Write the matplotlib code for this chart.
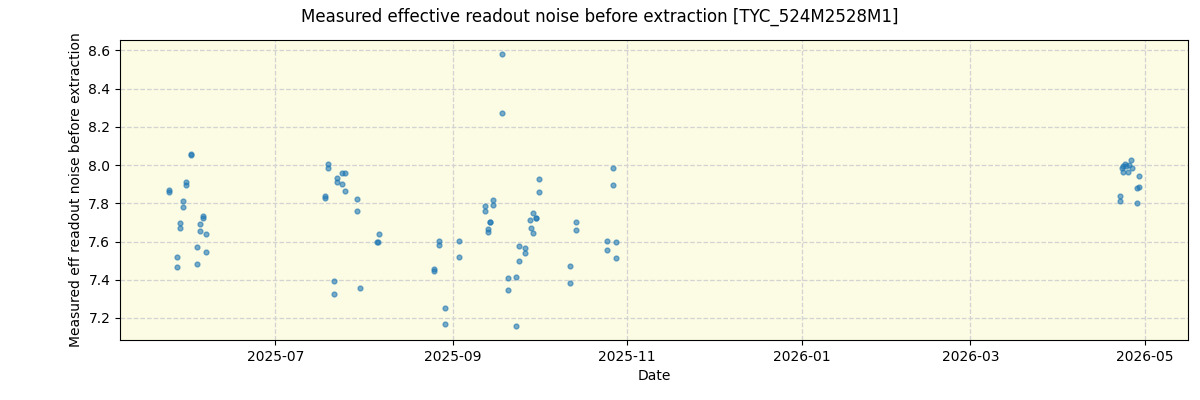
import pandas as pd
import matplotlib
matplotlib.use("Agg")
import matplotlib.pyplot as plt
import matplotlib.dates as mdates

# observation dates (two readings for most nights)
dates = [
    "2025-05-24 16:00", "2025-05-24 16:00", "2025-05-27 12:00", "2025-05-27 12:00",
    "2025-05-28 13:00", "2025-05-28 13:00", "2025-05-29 14:00", "2025-05-29 14:00",
    "2025-05-30 15:00", "2025-05-30 15:00", "2025-06-01 09:00", "2025-06-01 09:00",
    "2025-06-03 11:00", "2025-06-03 11:00", "2025-06-04 12:00", "2025-06-04 12:00",
    "2025-06-05 14:00", "2025-06-05 14:00", "2025-06-06 15:00", "2025-06-06 15:00",
    "2025-07-18 06:00", "2025-07-18 06:00", "2025-07-19 07:00", "2025-07-19 07:00",
    "2025-07-21 09:00", "2025-07-21 09:00", "2025-07-22 11:00", "2025-07-22 11:00",
    "2025-07-24 05:00", "2025-07-24 05:00", "2025-07-25 07:00", "2025-07-25 07:00",
    "2025-07-29 11:00", "2025-07-29 11:00", "2025-07-30 12:00",
    "2025-08-05 10:00", "2025-08-05 22:00", "2025-08-06 03:00",
    "2025-08-25 09:00", "2025-08-25 09:00", "2025-08-27 03:00", "2025-08-27 03:00",
    "2025-08-29 05:00", "2025-08-29 05:00", "2025-09-03 03:00", "2025-09-03 03:00",
    "2025-09-12 05:00", "2025-09-12 05:00", "2025-09-13 06:00", "2025-09-13 06:00",
    "2025-09-13 23:00", "2025-09-13 23:00", "2025-09-15 00:00", "2025-09-15 00:00",
    "2025-09-18 04:00", "2025-09-18 04:00", "2025-09-20 06:00", "2025-09-20 06:00",
    "2025-09-23 01:00", "2025-09-23 01:00", "2025-09-24 02:00", "2025-09-24 02:00",
    "2025-09-26 05:00", "2025-09-26 05:00", "2025-09-27 23:00", "2025-09-28 07:00",
    "2025-09-29 00:00", "2025-09-29 00:00", "2025-09-30 01:00", "2025-09-30 01:00",
    "2025-10-01 02:00", "2025-10-01 02:00",
    "2025-10-11 22:00", "2025-10-11 22:00", "2025-10-14 01:00", "2025-10-14 01:00",
    "2025-10-24 21:00", "2025-10-24 21:00", "2025-10-26 23:00", "2025-10-26 23:00",
    "2025-10-28 01:00", "2025-10-28 01:00",
    "2026-04-22 07:00", "2026-04-22 07:00", "2026-04-22 22:00", "2026-04-23 04:00",
    "2026-04-23 04:00", "2026-04-24 01:00", "2026-04-24 13:00", "2026-04-25 06:00",
    "2026-04-25 11:00", "2026-04-26 04:00", "2026-04-26 10:00", "2026-04-28 06:00",
    "2026-04-28 06:00", "2026-04-29 02:00", "2026-04-29 02:00",
]

noise = [
    7.871, 7.859, 7.518, 7.466,
    7.696, 7.670, 7.812, 7.780,
    7.911, 7.894, 8.060, 8.055,
    7.571, 7.481, 7.691, 7.655,
    7.735, 7.723, 7.639, 7.544,
    7.840, 7.829, 8.007, 7.985,
    7.392, 7.324, 7.932, 7.911,
    7.959, 7.901, 7.959, 7.864,
    7.822, 7.759, 7.356,
    7.598, 7.598, 7.639,
    7.455, 7.445, 7.602, 7.581,
    7.251, 7.167, 7.602, 7.518,
    7.787, 7.759, 7.665, 7.649,
    7.700, 7.700, 7.817, 7.791,
    8.583, 8.273, 7.408, 7.345,
    7.413, 7.156, 7.576, 7.497,
    7.565, 7.539, 7.712, 7.670,
    7.749, 7.644, 7.723, 7.723,
    7.927, 7.859,
    7.471, 7.383, 7.702, 7.660,
    7.602, 7.555, 7.985, 7.896,
    7.597, 7.513,
    7.838, 7.812, 7.985, 7.993,
    7.964, 8.006, 7.993, 7.964,
    8.001, 8.027, 7.985, 7.880,
    7.801, 7.883, 7.943,
]

x = pd.to_datetime(dates)

fig, ax = plt.subplots(figsize=(12, 4), dpi=100)
ax.set_facecolor('#fcfbe3')
ax.scatter(x, noise, s=12, color='tab:blue', alpha=0.6, zorder=3)

ax.grid(True, linestyle='--', color='lightgray', linewidth=0.9)
ax.set_axisbelow(True)
ax.xaxis.set_major_locator(mdates.MonthLocator(bymonth=[1, 3, 5, 7, 9, 11]))
ax.xaxis.set_major_formatter(mdates.DateFormatter('%Y-%m'))

ax.set_xlabel('Date')
ax.set_ylabel('Measured eff readout noise before extraction')
fig.suptitle('Measured effective readout noise before extraction [TYC_524M2528M1]', fontsize=12)

plt.subplots_adjust(left=0.1, right=0.99, top=0.9, bottom=0.15)
plt.savefig('out.png')
